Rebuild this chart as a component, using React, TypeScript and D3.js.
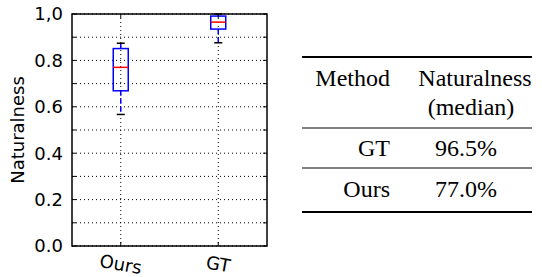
import React from 'react';
import * as d3 from 'd3';

// box plot stats
const methods = ['Ours', 'GT'];
const q1 = [0.669, 0.935];
const medians = [0.770, 0.965];
const q3 = [0.851, 0.991];
const whiskerLow = [0.567, 0.876];
const whiskerHigh = [0.874, 1.0];

const yTicks = [0, 0.1, 0.2, 0.3, 0.4, 0.5, 0.6, 0.7, 0.8, 0.9, 1.0];
const yLabels = ['0.0', '', '0.2', '', '0.4', '', '0.6', '', '0.8', '', '1,0'];

// table
const tableRows = [
  { method: 'GT', value: '96.5%' },
  { method: 'Ours', value: '77.0%' },
];

const left = 72, right = 267, top = 14, bottom = 246;

const App = () => {
  const y = d3.scaleLinear().domain([0, 1]).range([bottom, top]);
  const x = d3.scaleLinear().domain([0.5, 2.5]).range([left, right]);
  const boxHalf = 7.5;
  const capHalf = 4;
  const tickFont = 'DejaVu Sans, sans-serif';
  const serif = '"Liberation Serif", serif';

  return (
    <svg width={542} height={277} style={{ position: 'absolute', left: 0, top: 0, background: '#fff' }}>
      {/* grid */}
      {yTicks.map((t, i) => (
        <line key={'gy' + i} x1={left} x2={right} y1={y(t)} y2={y(t)} stroke="#000" strokeWidth={1} strokeDasharray="1,3" />
      ))}
      {methods.map((m, i) => (
        <line key={'gx' + m} x1={x(i + 1)} x2={x(i + 1)} y1={top} y2={bottom} stroke="#000" strokeWidth={1} strokeDasharray="1,3" />
      ))}

      {/* boxes */}
      {methods.map((m, i) => {
        const cx = x(i + 1);
        return (
          <g key={'b' + m}>
            <line x1={cx} x2={cx} y1={y(q1[i])} y2={y(whiskerLow[i])} stroke="#0000ff" strokeWidth={1.5} strokeDasharray="5,3" />
            <line x1={cx} x2={cx} y1={y(q3[i])} y2={y(whiskerHigh[i])} stroke="#0000ff" strokeWidth={1.5} strokeDasharray="5,3" />
            <line x1={cx - capHalf} x2={cx + capHalf} y1={y(whiskerLow[i])} y2={y(whiskerLow[i])} stroke="#000" strokeWidth={1.5} />
            <line x1={cx - capHalf} x2={cx + capHalf} y1={y(whiskerHigh[i])} y2={y(whiskerHigh[i])} stroke="#000" strokeWidth={1.5} />
            <rect x={cx - boxHalf} y={y(q3[i])} width={boxHalf * 2} height={y(q1[i]) - y(q3[i])} fill="none" stroke="#0000ff" strokeWidth={1.5} />
            <line x1={cx - boxHalf} x2={cx + boxHalf} y1={y(medians[i])} y2={y(medians[i])} stroke="#ff0000" strokeWidth={1.5} />
          </g>
        );
      })}

      {/* frame */}
      <rect x={left} y={top} width={right - left} height={bottom - top} fill="none" stroke="#000" strokeWidth={1.5} />

      {/* ticks */}
      {yTicks.map((t, i) => (
        <g key={'ty' + i}>
          <line x1={left} x2={left + 4} y1={y(t)} y2={y(t)} stroke="#000" />
          <line x1={right - 4} x2={right} y1={y(t)} y2={y(t)} stroke="#000" />
          {yLabels[i] && (
            <text x={left - 9} y={y(t)} dy="0.36em" textAnchor="end" fontFamily={tickFont} fontSize={18} fill="#000">
              {yLabels[i]}
            </text>
          )}
        </g>
      ))}
      {methods.map((m, i) => (
        <g key={'tx' + m}>
          <line x1={x(i + 1)} x2={x(i + 1)} y1={top} y2={top + 4} stroke="#000" />
          <line x1={x(i + 1)} x2={x(i + 1)} y1={bottom - 4} y2={bottom} stroke="#000" />
          <text transform={`translate(${x(i + 1)},${bottom + 18}) rotate(10)`} dy="0.36em" textAnchor="middle" fontFamily={tickFont} fontSize={18} fill="#000">
            {m}
          </text>
        </g>
      ))}
      <text transform={`translate(18,${(top + bottom) / 2}) rotate(-90)`} dy="0.36em" textAnchor="middle" fontFamily={tickFont} fontSize={18} fill="#000">
        Naturalness
      </text>

      {/* table */}
      <line x1={302} x2={532} y1={57} y2={57} stroke="#000" strokeWidth={2} />
      <text x={390} y={86} textAnchor="end" fontFamily={serif} fontSize={24}>Method</text>
      <text x={475} y={86} textAnchor="middle" fontFamily={serif} fontSize={24}>Naturalness</text>
      <text x={471} y={115} textAnchor="middle" fontFamily={serif} fontSize={24}>(median)</text>
      <line x1={302} x2={532} y1={128} y2={128} stroke="#000" strokeWidth={1} />
      {tableRows.map((r, i) => (
        <g key={'row' + r.method}>
          <text x={390} y={156 + i * 41} textAnchor="end" fontFamily={serif} fontSize={24}>{r.method}</text>
          <text x={466} y={156 + i * 41} textAnchor="middle" fontFamily={serif} fontSize={24}>{r.value}</text>
          {i < tableRows.length - 1 && (
            <line x1={302} x2={532} y1={168 + i * 41} y2={168 + i * 41} stroke="#000" strokeWidth={1} />
          )}
        </g>
      ))}
      <line x1={302} x2={532} y1={212} y2={212} stroke="#000" strokeWidth={2} />
    </svg>
  );
};

export default App;
